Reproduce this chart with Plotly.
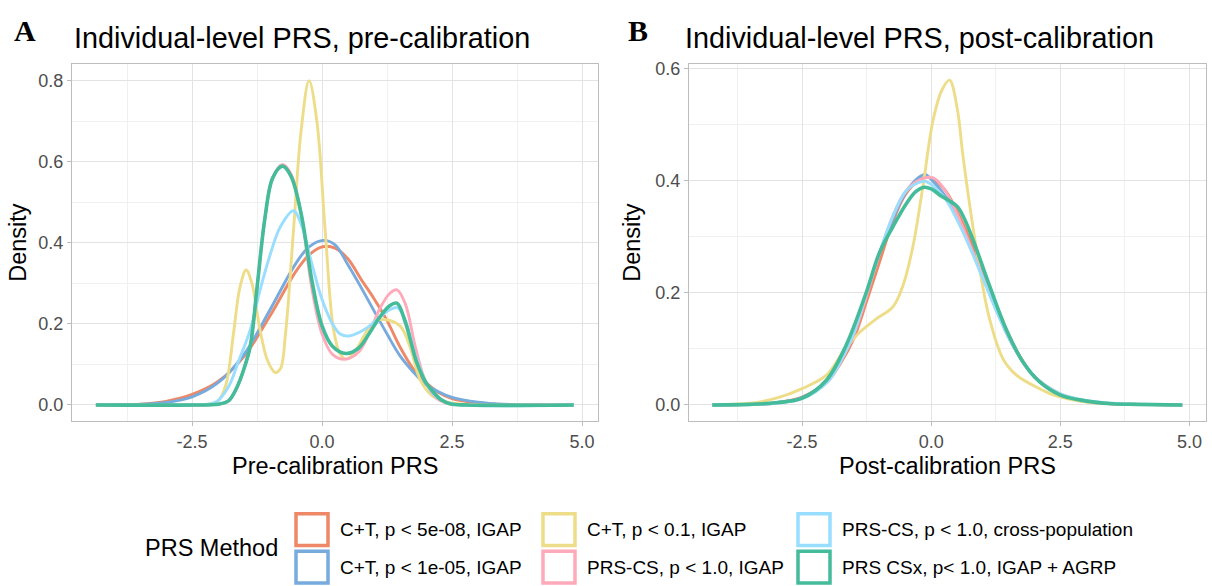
import plotly.graph_objects as go

W, H = 1212, 586

# ---- method labels and colours (legend order) ----
methods = [
    "C+T, p < 5e-08, IGAP",
    "C+T, p < 1e-05, IGAP",
    "C+T, p < 0.1, IGAP",
    "PRS-CS, p < 1.0, IGAP",
    "PRS-CS, p < 1.0, cross-population",
    "PRS CSx, p< 1.0, IGAP + AGRP",
]
colors = ["#EE8866", "#77AADD", "#EEDD88", "#FFAABB", "#99DDFF", "#44BB99"]
line_widths = [2.9, 2.9, 2.9, 2.9, 2.9, 3.6]

# ---- density estimates, pre-calibration PRS ----
pre_x_ct5e8 = [-4.35, -3.5, -3.0, -2.5, -2.0, -1.5, -1.0, -0.5, -0.25, 0.0, 0.25, 0.5, 0.75,
               1.0, 1.25, 1.5, 1.75, 2.0, 2.25, 2.5, 3.0, 3.5, 4.84]
pre_y_ct5e8 = [0.0, 0.002, 0.009, 0.026, 0.058, 0.12, 0.22, 0.33, 0.37, 0.39, 0.387, 0.36, 0.31,
               0.262, 0.208, 0.143, 0.09, 0.055, 0.03, 0.016, 0.005, 0.001, 0.0]

pre_x_ct1e5 = [-4.35, -3.5, -3.0, -2.5, -2.0, -1.5, -1.0, -0.5, -0.25, 0.03, 0.25, 0.5, 0.75,
               1.0, 1.25, 1.5, 1.75, 2.0, 2.25, 2.5, 3.0, 3.5, 4.84]
pre_y_ct1e5 = [0.0, 0.001, 0.006, 0.02, 0.055, 0.125, 0.235, 0.35, 0.39, 0.406, 0.395, 0.345, 0.29,
               0.232, 0.175, 0.121, 0.082, 0.05, 0.032, 0.019, 0.007, 0.002, 0.0]

pre_x_ct01 = [-4.35, -2.5, -2.2, -2.0, -1.85, -1.7, -1.58, -1.46, -1.35, -1.2, -1.05, -0.9, -0.8,
              -0.7, -0.55, -0.4, -0.25, -0.1, 0.06, 0.22, 0.35, 0.47, 0.65, 0.85, 1.0, 1.2, 1.5,
              1.7, 1.88, 2.1, 2.33, 2.6, 3.0, 4.84]
pre_y_ct01 = [0.0, 0.0, 0.002, 0.01, 0.05, 0.18, 0.29, 0.333, 0.30, 0.19, 0.11, 0.08, 0.09,
              0.18, 0.43, 0.68, 0.80, 0.70, 0.43, 0.186, 0.125, 0.113, 0.135, 0.18, 0.205, 0.211, 0.195,
              0.14, 0.064, 0.025, 0.01, 0.003, 0.0, 0.0]

pre_x_prscs = [-4.35, -2.5, -2.0, -1.8, -1.65, -1.5, -1.38, -1.25, -1.1, -0.95, -0.76, -0.6, -0.4,
               -0.2, 0.0, 0.2, 0.45, 0.7, 0.9, 1.1, 1.3, 1.44, 1.6, 1.8, 2.0, 2.2, 2.4, 2.8, 4.84]
pre_y_prscs = [0.0, 0.0, 0.002, 0.01, 0.04, 0.09, 0.146, 0.29, 0.46, 0.56, 0.593, 0.57, 0.47,
               0.29, 0.175, 0.125, 0.113, 0.13, 0.175, 0.235, 0.275, 0.284, 0.25, 0.14, 0.055, 0.017, 0.004, 0.0, 0.0]

pre_x_cross = [-4.35, -2.5, -2.2, -2.03, -1.8, -1.6, -1.38, -1.2, -1.0, -0.8, -0.55, -0.4, -0.2,
               0.0, 0.2, 0.35, 0.5, 0.8, 1.1, 1.3, 1.45, 1.6, 1.8, 2.0, 2.2, 2.4, 2.7, 4.84]
pre_y_cross = [0.0, 0.0, 0.002, 0.008, 0.045, 0.11, 0.186, 0.28, 0.37, 0.44, 0.479, 0.445, 0.35,
               0.26, 0.2, 0.175, 0.17, 0.185, 0.215, 0.235, 0.24, 0.21, 0.12, 0.055, 0.02, 0.006, 0.0, 0.0]

pre_x_csx = [-4.35, -2.5, -2.0, -1.8, -1.65, -1.5, -1.38, -1.25, -1.1, -0.95, -0.76, -0.6, -0.4,
             -0.2, 0.0, 0.2, 0.46, 0.7, 0.9, 1.1, 1.3, 1.44, 1.6, 1.7, 1.82, 2.0, 2.14, 2.3, 2.46, 2.8, 4.84]
pre_y_csx = [0.0, 0.0, 0.002, 0.01, 0.04, 0.09, 0.146, 0.29, 0.46, 0.56, 0.589, 0.565, 0.47,
             0.31, 0.195, 0.145, 0.127, 0.14, 0.175, 0.215, 0.245, 0.251, 0.205, 0.16, 0.105, 0.055, 0.032, 0.012, 0.003, 0.0, 0.0]

# ---- density estimates, post-calibration PRS ----
post_x_ct5e8 = [-4.24, -3.5, -3.0, -2.5, -2.0, -1.75, -1.5, -1.25, -1.0, -0.75, -0.5, -0.25, -0.05,
                0.25, 0.5, 0.75, 1.0, 1.25, 1.5, 1.75, 2.0, 2.5, 3.0, 3.5, 4.0, 4.86]
post_y_ct5e8 = [0.0, 0.001, 0.004, 0.014, 0.043, 0.075, 0.118, 0.185, 0.255, 0.325, 0.375, 0.4, 0.406,
                0.385, 0.345, 0.295, 0.24, 0.18, 0.125, 0.082, 0.05, 0.018, 0.006, 0.002, 0.001, 0.0]

post_x_ct1e5 = [-4.24, -3.5, -3.0, -2.5, -2.0, -1.75, -1.5, -1.25, -1.0, -0.75, -0.5, -0.25, -0.12,
                0.0, 0.25, 0.5, 0.75, 1.0, 1.25, 1.5, 1.75, 2.0, 2.5, 3.0, 3.5, 4.0, 4.86]
post_y_ct1e5 = [0.0, 0.001, 0.004, 0.013, 0.045, 0.08, 0.125, 0.2, 0.27, 0.33, 0.378, 0.405, 0.411,
                0.402, 0.375, 0.335, 0.285, 0.228, 0.172, 0.12, 0.08, 0.05, 0.018, 0.006, 0.002, 0.001, 0.0]

post_x_ct01 = [-4.24, -3.5, -3.0, -2.5, -2.03, -1.71, -1.39, -1.07, -0.74, -0.55, -0.36, -0.16, 0.03,
               0.2, 0.355, 0.5, 0.61, 0.74, 0.94, 1.13, 1.39, 1.65, 1.97, 2.36, 3.0, 3.5, 4.86]
post_y_ct01 = [0.0, 0.003, 0.012, 0.029, 0.053, 0.094, 0.129, 0.153, 0.175, 0.212, 0.28, 0.39, 0.505,
               0.56, 0.579, 0.53, 0.447, 0.359, 0.241, 0.153, 0.082, 0.053, 0.035, 0.018, 0.005, 0.002, 0.0]

post_x_prscs = [-4.24, -3.5, -3.0, -2.5, -2.0, -1.75, -1.5, -1.25, -1.0, -0.75, -0.5, -0.25, 0.03,
                0.25, 0.5, 0.75, 1.0, 1.25, 1.5, 1.75, 2.0, 2.5, 3.0, 3.5, 4.0, 4.86]
post_y_prscs = [0.0, 0.001, 0.003, 0.012, 0.042, 0.078, 0.125, 0.195, 0.27, 0.335, 0.38, 0.4, 0.405,
                0.385, 0.34, 0.285, 0.228, 0.172, 0.12, 0.08, 0.05, 0.02, 0.007, 0.002, 0.001, 0.0]

post_x_cross = [-4.24, -3.5, -3.0, -2.5, -2.0, -1.75, -1.5, -1.25, -1.0, -0.75, -0.5, -0.25, -0.1,
                0.25, 0.5, 0.75, 1.0, 1.25, 1.5, 1.75, 2.0, 2.5, 3.0, 3.5, 4.0, 4.86]
post_y_cross = [0.0, 0.001, 0.003, 0.011, 0.042, 0.078, 0.128, 0.2, 0.272, 0.335, 0.38, 0.396, 0.398,
                0.37, 0.33, 0.28, 0.225, 0.17, 0.12, 0.08, 0.05, 0.02, 0.008, 0.003, 0.001, 0.0]

post_x_csx = [-4.24, -3.5, -3.0, -2.5, -2.03, -1.65, -1.26, -1.0, -0.74, -0.48, -0.3, -0.14, 0.0,
              0.2, 0.35, 0.51, 0.65, 0.81, 1.13, 1.45, 1.78, 2.1, 2.49, 2.87, 3.5, 4.0, 4.86]
post_y_csx = [0.0, 0.001, 0.004, 0.012, 0.044, 0.106, 0.2, 0.272, 0.318, 0.359, 0.38, 0.388, 0.385,
              0.372, 0.364, 0.353, 0.33, 0.294, 0.212, 0.135, 0.076, 0.041, 0.018, 0.009, 0.002, 0.001, 0.0]

pre_series = [(pre_x_ct5e8, pre_y_ct5e8), (pre_x_ct1e5, pre_y_ct1e5), (pre_x_ct01, pre_y_ct01),
              (pre_x_prscs, pre_y_prscs), (pre_x_cross, pre_y_cross), (pre_x_csx, pre_y_csx)]
post_series = [(post_x_ct5e8, post_y_ct5e8), (post_x_ct1e5, post_y_ct1e5), (post_x_ct01, post_y_ct01),
               (post_x_prscs, post_y_prscs), (post_x_cross, post_y_cross), (post_x_csx, post_y_csx)]

# ---- axis ticks ----
x_tickvals = [-2.5, 0.0, 2.5, 5.0]
x_ticktext = ["-2.5", "0.0", "2.5", "5.0"]
x_minor = [-3.75, -1.25, 1.25, 3.75]
pre_y_tickvals = [0.0, 0.2, 0.4, 0.6, 0.8]
pre_y_ticktext = ["0.0", "0.2", "0.4", "0.6", "0.8"]
pre_y_minor = [0.1, 0.3, 0.5, 0.7]
post_y_tickvals = [0.0, 0.2, 0.4, 0.6]
post_y_ticktext = ["0.0", "0.2", "0.4", "0.6"]
post_y_minor = [0.1, 0.3, 0.5]

panel_titles = ["Individual-level PRS, pre-calibration", "Individual-level PRS, post-calibration"]
x_titles = ["Pre-calibration PRS", "Post-calibration PRS"]
panel_tags = ["A", "B"]


def px(x):
    return x / W


def py(y):
    return 1 - y / H


SANS = "Liberation Sans, Arial, sans-serif"
SERIF = "Liberation Serif, Times New Roman, serif"

fig = go.Figure()

for (xs, ys), col, lw, name in zip(pre_series, colors, line_widths, methods):
    fig.add_trace(go.Scatter(x=xs, y=ys, mode="lines", name=name, showlegend=False,
                             line=dict(color=col, width=lw, shape="spline", smoothing=1.0),
                             xaxis="x", yaxis="y"))
for (xs, ys), col, lw, name in zip(post_series, colors, line_widths, methods):
    fig.add_trace(go.Scatter(x=xs, y=ys, mode="lines", name=name, showlegend=False,
                             line=dict(color=col, width=lw, shape="spline", smoothing=1.0),
                             xaxis="x2", yaxis="y2"))

# panel geometry (pixels)
top, bottom = 59, 419.5
panels = [(72, 597.6), (689, 1205.5)]

grid_major = "#E3E3E3"
grid_minor = "#F0F0F0"
border = "#BDBDBD"
tick_font = dict(family=SANS, size=18, color="#4D4D4D")


def axis_common():
    return dict(showline=True, mirror=True, linecolor=border, linewidth=1,
                ticks="outside", ticklen=4, tickcolor=border, tickwidth=1,
                showgrid=True, gridcolor=grid_major, gridwidth=1.1,
                zeroline=False, tickfont=tick_font, tickmode="array")


xa = axis_common()
xa.update(domain=[px(panels[0][0]), px(panels[0][1])], range=[-4.81, 5.30], anchor="y",
          tickvals=x_tickvals, ticktext=x_ticktext,
          minor=dict(tickmode="array", tickvals=x_minor, showgrid=True, gridcolor=grid_minor,
                     gridwidth=0.8, ticks=""))
ya = axis_common()
ya.update(domain=[py(bottom), py(top)], range=[-0.04, 0.84], anchor="x",
          tickvals=pre_y_tickvals, ticktext=pre_y_ticktext,
          minor=dict(tickmode="array", tickvals=pre_y_minor, showgrid=True, gridcolor=grid_minor,
                     gridwidth=0.8, ticks=""))
xb = axis_common()
xb.update(domain=[px(panels[1][0]), px(panels[1][1])], range=[-4.69, 5.31], anchor="y2",
          tickvals=x_tickvals, ticktext=x_ticktext,
          minor=dict(tickmode="array", tickvals=x_minor, showgrid=True, gridcolor=grid_minor,
                     gridwidth=0.8, ticks=""))
yb = axis_common()
yb.update(domain=[py(bottom), py(top)], range=[-0.029, 0.607], anchor="x2",
          tickvals=post_y_tickvals, ticktext=post_y_ticktext,
          minor=dict(tickmode="array", tickvals=post_y_minor, showgrid=True, gridcolor=grid_minor,
                     gridwidth=0.8, ticks=""))

annotations = []
tag_x = [25, 638]
title_x = [72, 683]
ytitle_x = [18, 632]
for i, (l, r) in enumerate(panels):
    annotations.append(dict(text=f"<b>{panel_tags[i]}</b>", x=px(tag_x[i]), y=py(25), xref="paper", yref="paper",
                            xanchor="center", yanchor="middle", showarrow=False,
                            font=dict(family=SERIF, size=30, color="black")))
    annotations.append(dict(text=panel_titles[i], x=px(title_x[i]), y=py(32), xref="paper", yref="paper",
                            xanchor="left", yanchor="middle", showarrow=False,
                            font=dict(family=SANS, size=28.8, color="black")))
    annotations.append(dict(text=x_titles[i], x=px((l + r) / 2), y=py(465), xref="paper", yref="paper",
                            xanchor="center", yanchor="middle", showarrow=False,
                            font=dict(family=SANS, size=23.5, color="black")))
    annotations.append(dict(text="Density", x=px(ytitle_x[i]), y=py((top + bottom) / 2), xref="paper",
                            yref="paper", xanchor="center", yanchor="middle", showarrow=False, textangle=-90,
                            font=dict(family=SANS, size=23.5, color="black")))

# legend: three columns, two rows, column-major order
legend_title = "PRS Method"
annotations.append(dict(text=legend_title, x=px(143), y=py(548), xref="paper", yref="paper",
                        xanchor="left", yanchor="middle", showarrow=False,
                        font=dict(family=SANS, size=23.5, color="black")))
key_cols = [294, 541, 796]
key_rows = [511, 549]
key_size = 36
shapes = []
for k, (name, col) in enumerate(zip(methods, colors)):
    c, r = divmod(k, 2)
    kx, ky = key_cols[c], key_rows[r]
    shapes.append(dict(type="rect", xref="paper", yref="paper",
                       x0=px(kx + 2), x1=px(kx + key_size - 2), y0=py(ky + key_size - 2), y1=py(ky + 2),
                       line=dict(color=col, width=3.5), fillcolor="white"))
    annotations.append(dict(text=name, x=px(kx + key_size + 8), y=py(ky + key_size / 2), xref="paper",
                            yref="paper", xanchor="left", yanchor="middle", showarrow=False,
                            font=dict(family=SANS, size=19, color="black")))

fig.update_layout(
    width=W, height=H, autosize=False,
    margin=dict(l=0, r=0, t=0, b=0),
    paper_bgcolor="white", plot_bgcolor="white",
    xaxis=xa, yaxis=ya, xaxis2=xb, yaxis2=yb,
    annotations=annotations, shapes=shapes,
    showlegend=False,
)

fig.write_html("out.html")
